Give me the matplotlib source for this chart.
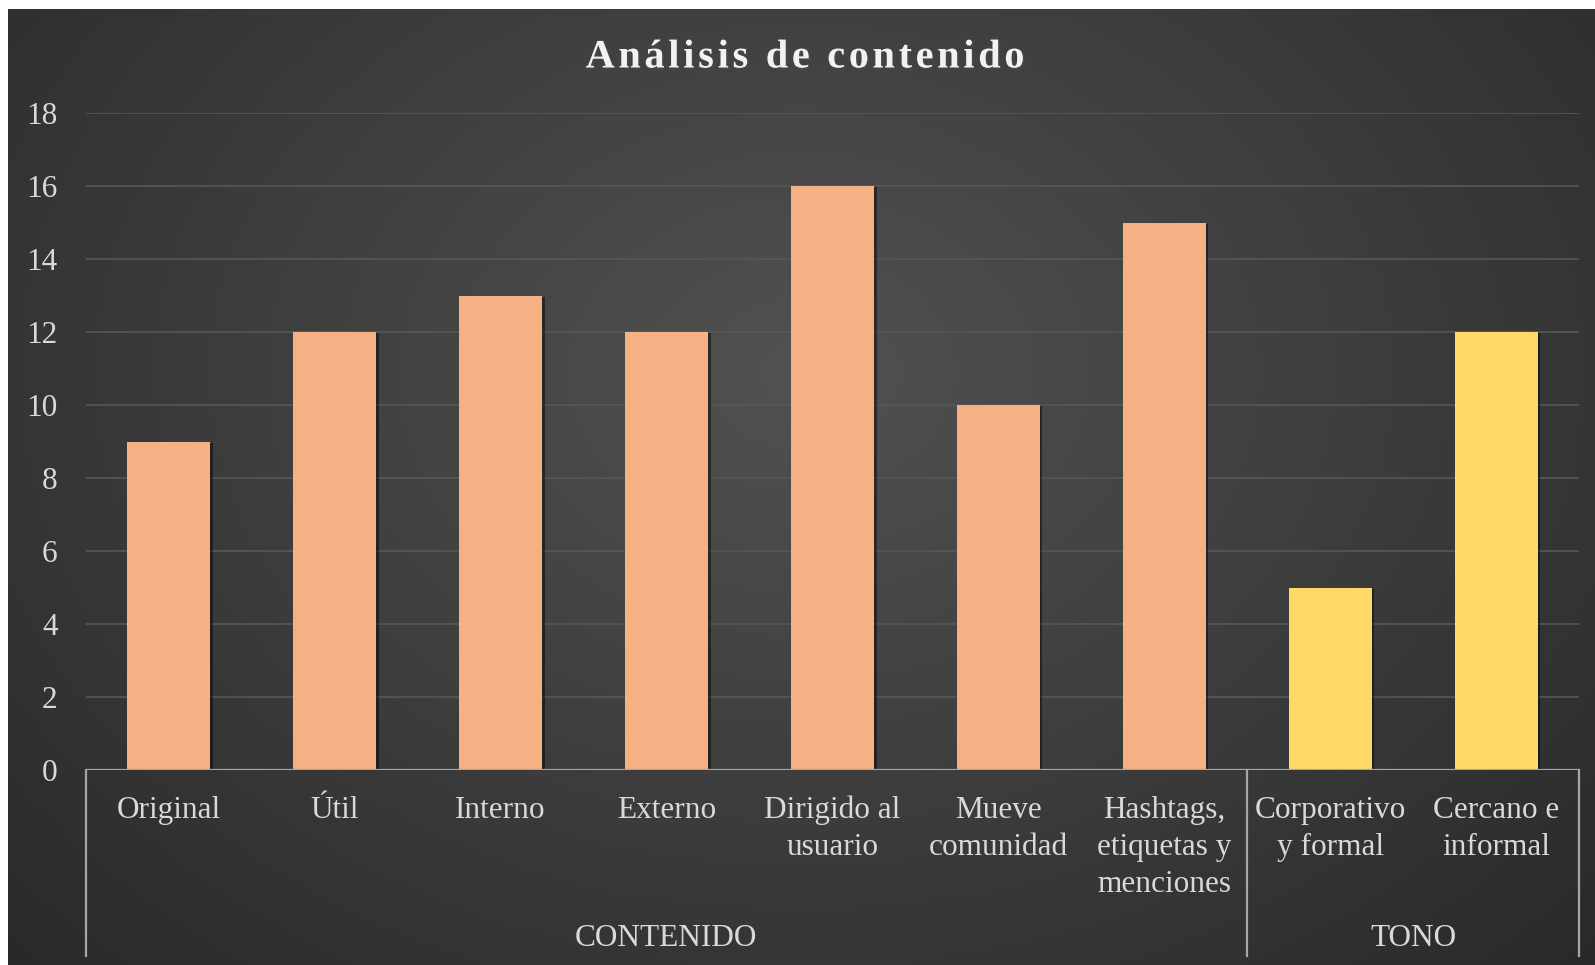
import numpy as np
import matplotlib
matplotlib.use('Agg')
import matplotlib.pyplot as plt
import matplotlib.patheffects as pe

# data
categories = ['Original', 'Útil', 'Interno', 'Externo', 'Dirigido al\nusuario',
              'Mueve\ncomunidad', 'Hashtags,\netiquetas y\nmenciones',
              'Corporativo\ny formal', 'Cercano e\ninformal']
values = [9, 12, 13, 12, 16, 10, 15, 5, 12]
groups = ['CONTENIDO', 'TONO']
group_sizes = [7, 2]
group_colors = ['#F4B183', '#FFD966']
y_ticks = list(range(0, 19, 2))
title = 'Análisis de contenido'

W, H = 1595, 965
plt.rcParams['font.family'] = ['Liberation Serif', 'DejaVu Serif']
txt_color = '#D9D9D9'

fig = plt.figure(figsize=(W / 100, H / 100), dpi=100, facecolor='white')

# dark radial background (leaves a thin white strip at top/left)
bg = fig.add_axes([8 / W, 0, (W - 8) / W, (H - 9) / H], zorder=-5)
gx, gy = np.meshgrid(np.linspace(0, 1, 400), np.linspace(0, 1, 250))
dist = np.sqrt(((gx - 0.5) / 0.75) ** 2 + ((gy - 0.38) / 0.95) ** 2)
shade = np.clip(0.32 - 0.17 * dist, 0.16, 0.32)
bg.imshow(np.dstack([shade] * 3), aspect='auto', extent=(0, 1, 0, 1), origin='upper')
bg.axis('off')

# main plot area
x0, x1, y0, y1 = 85.5, 1579, 770, 113
ax = fig.add_axes([x0 / W, (H - y0) / H, (x1 - x0) / W, (y0 - y1) / H])
ax.set_facecolor('none')
for s in ax.spines.values():
    s.set_visible(False)

colors = []
for g, n in enumerate(group_sizes):
    colors += [group_colors[g]] * n
xs = np.arange(len(categories))
bars = ax.bar(xs, values, width=0.5, color=colors, zorder=3)
for b in bars:
    b.set_path_effects([pe.SimplePatchShadow(offset=(2, -1), shadow_rgbFace='black', alpha=0.45),
                        pe.Normal()])

ax.set_xlim(-0.5, len(categories) - 0.5)
ax.set_ylim(0, 18)
ax.set_yticks(y_ticks)
ax.yaxis.grid(True, color='#575757', lw=1.2, zorder=0)
ax.tick_params(axis='y', length=0, pad=20, labelsize=22.5, labelcolor=txt_color)
ax.set_xticks([])
ax.axhline(0, color='#A6A6A6', lw=1.6, zorder=4)

# category labels
for i, lab in enumerate(categories):
    ax.annotate(lab, xy=(i, 0), xycoords=('data', 'axes fraction'), xytext=(0, -18.5),
                textcoords='offset points', ha='center', va='top', fontsize=22.5,
                color=txt_color, linespacing=1.37)

# group labels and separators
line_bottom = -(956 - 770) / (y0 - y1)
xtr = ax.get_xaxis_transform()
start = 0
edges = [-0.5]
for g, n in enumerate(group_sizes):
    mid = start + (n - 1) / 2
    ax.annotate(groups[g], xy=(mid, 0), xycoords=('data', 'axes fraction'), xytext=(0, -121),
                textcoords='offset points', ha='center', va='center', fontsize=22.5,
                color=txt_color)
    start += n
    edges.append(start - 0.5)
for e in edges:
    ax.plot([e, e], [0, line_bottom], transform=xtr, color='#A6A6A6', lw=1.6, clip_on=False)

# title with extra letter spacing
renderer = fig.canvas.get_renderer()
tprops = dict(fontsize=29, fontweight='bold', color='#F2F2F2')
spacing = 3.7
widths = []
for ch in title:
    t = fig.text(0, 0, ch if ch != ' ' else 'n', **tprops)
    w = t.get_window_extent(renderer).width
    if ch == ' ':
        w *= 0.45
    widths.append(w)
    t.remove()
total = sum(widths) + spacing * (len(title) - 1)
cx = 805
x = cx - total / 2
for ch, w in zip(title, widths):
    if ch != ' ':
        fig.text(x / W, 1 - 58 / H, ch, ha='left', va='center', **tprops,
                 path_effects=[pe.withSimplePatchShadow(offset=(1.5, -1.5), alpha=0.6)])
    x += w + spacing

fig.savefig('out.png', dpi=100, facecolor=fig.get_facecolor())
